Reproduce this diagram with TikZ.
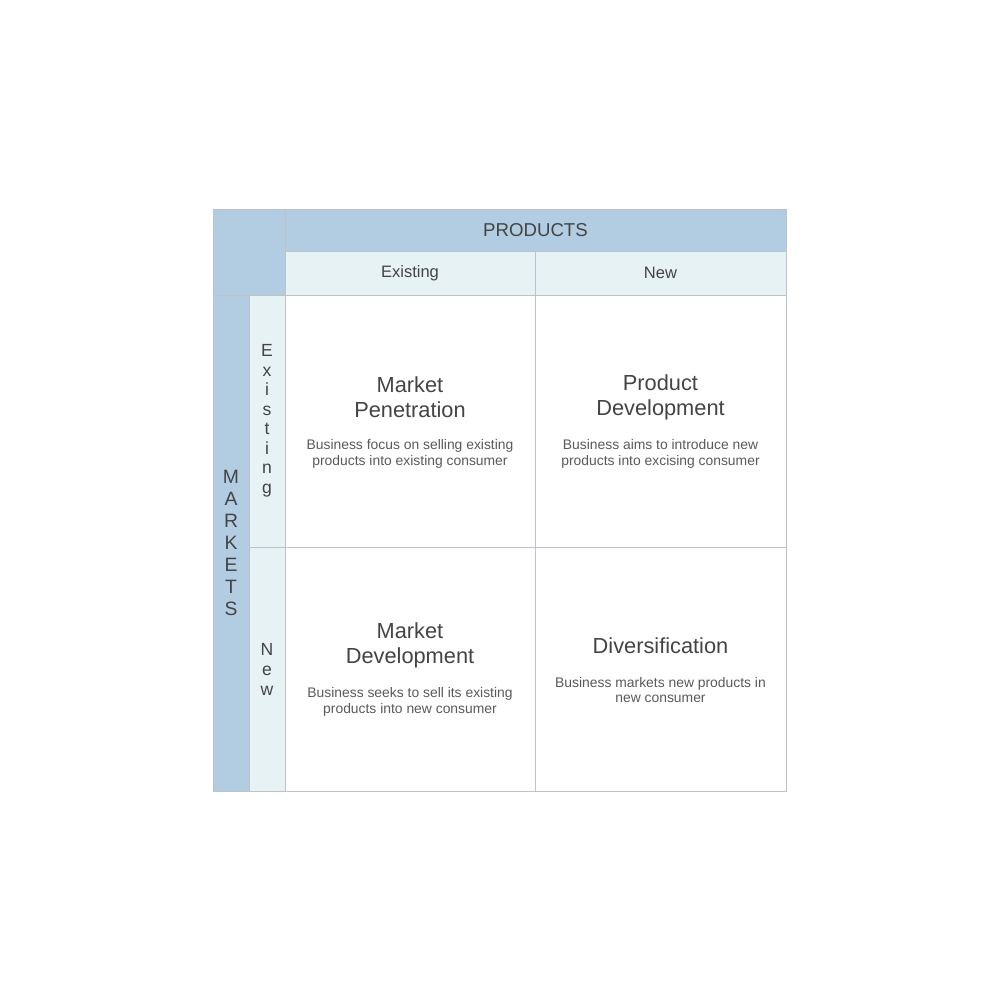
\documentclass[tikz,border=0pt]{standalone}
\usepackage{fontspec}
\setmainfont{Liberation Sans}
\usetikzlibrary{positioning}
\definecolor{hblue}{HTML}{B2CDE2}
\definecolor{hpale}{HTML}{E6F2F4}
\definecolor{rule}{HTML}{BDC3C8}
\definecolor{ink}{HTML}{444444}
\definecolor{soft}{HTML}{5A5A5A}
\tikzset{cell/.style={draw=rule,line width=0.5pt,fill=white,outer sep=0pt,inner sep=0pt,anchor=north west},
         head/.style={cell,fill=hblue,text=ink},
         sub/.style={cell,fill=hpale,text=ink},
         vtext/.style={align=center,text=ink},
         ttl/.style={align=center,text=ink,font=\fontsize{12.4}{14.2}\selectfont,inner sep=0pt},
         dsc/.style={align=center,text=soft,font=\fontsize{7.9}{9}\selectfont,inner sep=0pt}}

\begin{document}
\begin{tikzpicture}[node distance=0pt]
 \useasboundingbox[fill=white] (0,0) rectangle (20,-20);
 % header
 \node[head,minimum width=1.44cm,minimum height=1.72cm] (corner) at (4.26,-4.18) {};
 \node[head,minimum width=10.02cm,minimum height=0.84cm,right=of corner.north east,anchor=north west,font=\fontsize{10.6}{12}\selectfont] (prod) {PRODUCTS};
 \node[sub,minimum width=5.0cm,minimum height=0.88cm,below=of prod.south west,anchor=north west,font=\fontsize{9.4}{11}\selectfont] (pex) {Existing};
 \node[sub,minimum width=5.02cm,minimum height=0.88cm,right=of pex.north east,anchor=north west,font=\fontsize{9.4}{11}\selectfont] (pnew) {New};
 % side
 \node[head,minimum width=0.72cm,minimum height=9.92cm,below=of corner.south west,anchor=north west] (mk) {};
 \node[vtext,font=\fontsize{11}{12.5}\selectfont] (mktxt) at (mk.center) {M\\A\\R\\K\\E\\T\\S};
 \node[sub,minimum width=0.72cm,minimum height=5.04cm,right=of mk.north east,anchor=north west] (mex) {};
 \node[vtext,font=\fontsize{10}{11.1}\selectfont] (mextxt) at (mex.center) {E\\x\\i\\s\\t\\i\\n\\g};
 \node[sub,minimum width=0.72cm,minimum height=4.88cm,below=of mex.south west,anchor=north west] (mnew) {};
 \node[vtext,font=\fontsize{10}{11.4}\selectfont] (mnewtxt) at (mnew.center) {N\\e\\w};
 % cells
 \node[cell,minimum width=5.0cm,minimum height=5.04cm,right=of mex.north east,anchor=north west] (c11) {};
 \node[cell,minimum width=5.02cm,minimum height=5.04cm,right=of c11.north east,anchor=north west] (c12) {};
 \node[cell,minimum width=5.0cm,minimum height=4.88cm,right=of mnew.north east,anchor=north west] (c21) {};
 \node[cell,minimum width=5.02cm,minimum height=4.88cm,right=of c21.north east,anchor=north west] (c22) {};
 % texts
 \node[ttl] (t11) at ([yshift=0.47cm]c11.center) {Market\\Penetration};
 \node[dsc] (d11) at ([yshift=-0.66cm]c11.center) {Business focus on selling existing\\products into existing consumer};
 \node[ttl] (t12) at ([yshift=0.47cm]c12.center) {Product\\Development};
 \node[dsc] (d12) at ([yshift=-0.66cm]c12.center) {Business aims to introduce new\\products into excising consumer};
 \node[ttl] (t21) at ([yshift=0.47cm]c21.center) {Market\\Development};
 \node[dsc] (d21) at ([yshift=-0.66cm]c21.center) {Business seeks to sell its existing\\products into new consumer};
 \node[ttl] (t22) at ([yshift=0.47cm]c22.center) {Diversification};
 \node[dsc] (d22) at ([yshift=-0.42cm]c22.center) {Business markets new products in\\new consumer};
\end{tikzpicture}
\end{document}
